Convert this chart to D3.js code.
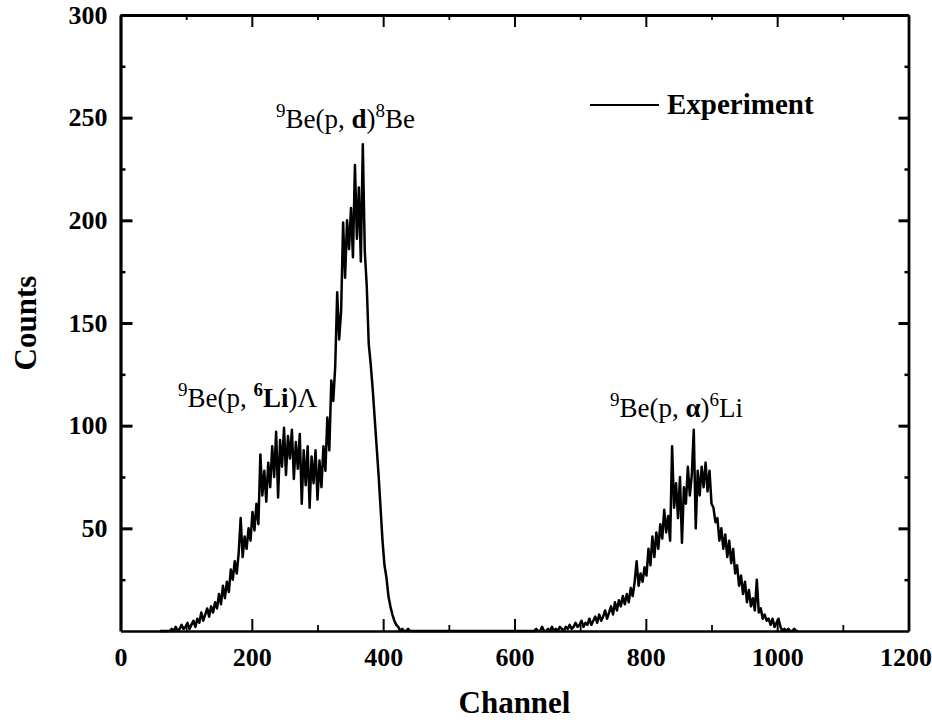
<!DOCTYPE html>
<html>
<head>
<meta charset="utf-8">
<script src="https://cdn.jsdelivr.net/npm/d3@7"></script>
<style>
  body { margin: 0; background: #fff; }
  svg { font-family: "Liberation Serif", "Times New Roman", serif; }
</style>
</head>
<body>
<div id="chart"></div>
<script>
// spectrum, one value every 3 channels
const channelStep = 3;
const leftStart = 60;
const leftCounts = [
  0, 0, 0, 0, 0, 0, 1, 0, 2, 0, 1, 3, 1, 2, 4, 1, 3, 5, 2, 6,
  4, 9, 5, 8, 11, 7, 12, 9, 14, 11, 18, 13, 22, 16, 24, 19, 30, 25, 34, 28,
  38, 55, 36, 46, 40, 50, 44, 58, 49, 62, 52, 86, 66, 78, 63, 82, 70, 90, 75, 97,
  65, 93, 80, 99, 76, 95, 84, 98, 74, 92, 79, 96, 62, 88, 71, 90, 60, 85, 72, 88,
  64, 83, 70, 90, 78, 104, 88, 122, 112, 129, 165, 142, 156, 199, 172, 200, 186, 206, 182, 227,
  191, 216, 180, 237, 185, 168, 140, 130, 118, 104, 90, 76, 60, 44, 32, 26, 17, 12, 8, 5,
  3, 2, 0, 1, 0, 0, 1, 0, 0
];
const rightStart = 630;
const rightCounts = [
  0, 1, 0, 0, 2, 0, 0, 1, 0, 2, 0, 1, 0, 2, 1, 0, 2, 1, 3, 1,
  2, 4, 2, 3, 5, 2, 4, 3, 6, 3, 5, 7, 4, 8, 5, 7, 10, 6, 9, 12,
  8, 14, 10, 15, 12, 17, 13, 18, 14, 21, 17, 24, 34, 22, 28, 24, 31, 27, 40, 32,
  46, 36, 48, 40, 52, 45, 59, 48, 56, 44, 90, 60, 72, 55, 75, 43, 70, 62, 80, 66,
  76, 98, 50, 78, 66, 80, 70, 82, 68, 78, 62, 60, 53, 55, 44, 50, 40, 47, 36, 44,
  33, 40, 28, 32, 22, 27, 18, 24, 14, 20, 12, 16, 10, 25, 9, 11, 6, 8, 5, 6,
  3, 6, 2, 4, 6, 2, 0, 1, 0, 1, 0, 0, 1, 0, 0
];

const xTicks = [0, 200, 400, 600, 800, 1000, 1200];
const xMinor = [100, 300, 500, 700, 900, 1100];
const yTicks = [50, 100, 150, 200, 250, 300];
const yMinor = [25, 75, 125, 175, 225, 275];

const width = 932, height = 720;
const margin = {top: 15, right: 23.5, bottom: 89, left: 120.5};

const svg = d3.select('#chart').append('svg')
    .attr('width', width)
    .attr('height', height);

const x = d3.scaleLinear().domain([0, 1200]).range([margin.left, width - margin.right]);
const y = d3.scaleLinear().domain([0, 300]).range([height - margin.bottom, margin.top]);

// build the series from the two read segments
const spectrum = [];
leftCounts.forEach((c, i) => spectrum.push([leftStart + i * channelStep, c]));
rightCounts.forEach((c, i) => spectrum.push([rightStart + i * channelStep, c]));

const line = d3.line().x(d => x(d[0])).y(d => y(d[1]));

svg.append('path')
    .datum(spectrum)
    .attr('fill', 'none')
    .attr('stroke', '#000')
    .attr('stroke-width', 2.5)
    .attr('stroke-linejoin', 'round')
    .attr('d', line);

// axes: ticks point inward on all four sides
function styleAxis(g, w) {
    g.select('.domain').attr('stroke-width', w);
    g.selectAll('.tick line').attr('stroke-width', 2);
    g.selectAll('.tick text')
        .attr('font-size', 26)
        .attr('font-weight', 'bold')
        .attr('font-family', '"Liberation Serif", serif')
        .attr('fill', '#000');
}

svg.append('g')
    .attr('transform', `translate(0,${y(0)})`)
    .call(d3.axisBottom(x).tickValues(xTicks).tickFormat(d3.format('d'))
        .tickSizeInner(-12).tickSizeOuter(0).tickPadding(17))
    .call(g => styleAxis(g, 2.5))
    .call(g => g.selectAll('.tick text').filter(d => d === 1200).attr('dx', -3));
svg.append('g')
    .attr('transform', `translate(0,${y(0)})`)
    .call(d3.axisBottom(x).tickValues(xMinor).tickSize(-6).tickFormat(''))
    .call(g => g.select('.domain').remove())
    .call(g => g.selectAll('.tick line').attr('stroke-width', 1.8));

svg.append('g')
    .attr('transform', `translate(0,${y(300)})`)
    .call(d3.axisTop(x).tickValues(xTicks).tickSizeInner(-12).tickSizeOuter(0).tickFormat(''))
    .call(g => styleAxis(g, 2.8));
svg.append('g')
    .attr('transform', `translate(0,${y(300)})`)
    .call(d3.axisTop(x).tickValues(xMinor).tickSize(-5).tickFormat(''))
    .call(g => g.select('.domain').remove())
    .call(g => g.selectAll('.tick line').attr('stroke-width', 1.8));

svg.append('g')
    .attr('transform', `translate(${x(0)},0)`)
    .call(d3.axisLeft(y).tickValues(yTicks).tickSizeInner(-12).tickSizeOuter(0).tickPadding(13))
    .call(g => styleAxis(g, 3.2))
    .call(g => g.selectAll('.tick line').attr('stroke-width', 3));
svg.append('g')
    .attr('transform', `translate(${x(0)},0)`)
    .call(d3.axisLeft(y).tickValues(yMinor).tickSize(-5).tickFormat(''))
    .call(g => g.select('.domain').remove())
    .call(g => g.selectAll('.tick line').attr('stroke-width', 2.5));

svg.append('g')
    .attr('transform', `translate(${x(1200)},0)`)
    .call(d3.axisRight(y).tickValues(yTicks).tickSizeInner(-10).tickSizeOuter(0).tickFormat(''))
    .call(g => styleAxis(g, 2.8))
    .call(g => g.selectAll('.tick line').attr('stroke-width', 3));
svg.append('g')
    .attr('transform', `translate(${x(1200)},0)`)
    .call(d3.axisRight(y).tickValues(yMinor).tickSize(-4).tickFormat(''))
    .call(g => g.select('.domain').remove())
    .call(g => g.selectAll('.tick line').attr('stroke-width', 2.5));

// axis titles
svg.append('text')
    .attr('x', (x(0) + x(1200)) / 2)
    .attr('y', 713)
    .attr('text-anchor', 'middle')
    .attr('font-size', 31)
    .attr('font-weight', 'bold')
    .text('Channel');

svg.append('text')
    .attr('transform', `translate(36,${(y(0) + y(300)) / 2}) rotate(-90)`)
    .attr('text-anchor', 'middle')
    .attr('font-size', 31)
    .attr('font-weight', 'bold')
    .text('Counts');

// legend
svg.append('line')
    .attr('x1', 590).attr('x2', 659)
    .attr('y1', 105).attr('y2', 105)
    .attr('stroke', '#000')
    .attr('stroke-width', 2);
svg.append('text')
    .attr('x', 667).attr('y', 114)
    .attr('font-size', 29)
    .attr('font-weight', 'bold')
    .text('Experiment');

// reaction labels: [text, superscript?, bold?]
function reaction(px, py, parts) {
    const t = svg.append('text')
        .attr('x', px).attr('y', py)
        .attr('font-size', 27);
    let raised = false;
    parts.forEach(([s, sup, bold]) => {
        const ts = t.append('tspan').text(s);
        if (sup && !raised) ts.attr('dy', -11);
        if (!sup && raised) ts.attr('dy', 11);
        raised = sup;
        if (sup) ts.attr('font-size', 19);
        if (bold) ts.attr('font-weight', 'bold');
    });
}

reaction(276, 128, [['9', true], ['Be(p, '], ['d', false, true], [')'], ['8', true], ['Be']]);
reaction(178, 407, [['9', true], ['Be(p, '], ['6', true, true], ['Li', false, true], [')Λ']]);
reaction(610, 417, [['9', true], ['Be(p, '], ['α', false, true], [')'], ['6', true], ['Li']]);
</script>
</body>
</html>
